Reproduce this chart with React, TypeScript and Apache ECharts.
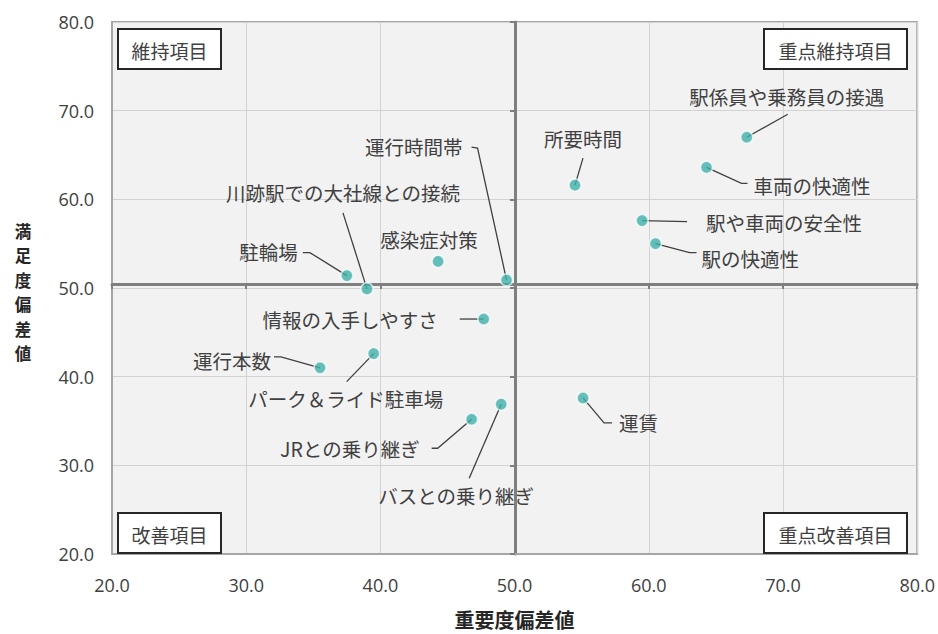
import React, { useEffect, useRef } from "react";
import * as echarts from "echarts";

// ---- data ----
const itemNames = [
  "駅係員や乗務員の接遇",
  "車両の快適性",
  "駅や車両の安全性",
  "駅の快適性",
  "所要時間",
  "運行時間帯",
  "川跡駅での大社線との接続",
  "感染症対策",
  "駐輪場",
  "情報の入手しやすさ",
  "運行本数",
  "パーク＆ライド駐車場",
  "JRとの乗り継ぎ",
  "バスとの乗り継ぎ",
  "運賃",
];
// 重要度偏差値 (x)
const importance = [67.3, 64.3, 59.5, 60.5, 54.5, 49.4, 39.0, 44.3, 37.5, 47.7, 35.5, 39.5, 46.8, 49.0, 55.1];
// 満足度偏差値 (y)
const satisfaction = [67.0, 63.6, 57.6, 55.0, 61.6, 50.9, 49.9, 53.0, 51.4, 46.5, 41.0, 42.6, 35.2, 36.9, 37.6];

const axisMin = 20;
const axisMax = 80;
const axisStep = 10;
const crossValue = 50;

const quadrantNames = ["維持項目", "重点維持項目", "改善項目", "重点改善項目"];
const xAxisTitle = "重要度偏差値";
const yAxisTitle = "満足度偏差値";

// ---- label placement (pixel offsets from each point) ----
type Placement = { dx: number; dy: number; align: "left" | "right" | "center"; leader?: number[][] };
const labelPlacement: Placement[] = [
  { dx: 40, dy: -41, align: "center", leader: [[41, -23]] },
  { dx: 47, dy: 18, align: "left", leader: [[35, 16], [41, 16]] },
  { dx: 64, dy: 2, align: "left", leader: [[45, 1]] },
  { dx: 46, dy: 15, align: "left", leader: [[34, 9], [41, 9]] },
  { dx: 8, dy: -47, align: "center", leader: [[8, -27]] },
  { dx: -44, dy: -134, align: "right", leader: [[-29, -132], [-35, -133]] },
  { dx: -24, dy: -96, align: "center", leader: [[-24, -76]] },
  { dx: -9, dy: -22, align: "center" },
  { dx: -49, dy: -24, align: "right", leader: [[-37, -23], [-44, -23]] },
  { dx: -46, dy: 0, align: "right", leader: [[-24, 0]] },
  { dx: -49, dy: -7, align: "right", leader: [[-39, -11], [-46, -11]] },
  { dx: -28, dy: 45, align: "center", leader: [[-27, 28]] },
  { dx: -52, dy: 29, align: "right", leader: [[-34, 29], [-40, 29]] },
  { dx: -45, dy: 91, align: "center", leader: [[-32, 74]] },
  { dx: 36, dy: 25, align: "left", leader: [[21, 25], [29, 25]] },
];

const FONT_JP = '"Noto Sans CJK JP", "Noto Sans", sans-serif';
const FONT_NUM = '"Open Sans", "Noto Sans", sans-serif';
const TEXT = "#404040";

const GRID = { left: 112, top: 22, width: 806, height: 540 };

function quadrantBox(name: string, x: number, y: number, w: number, h: number) {
  return [
    {
      type: "rect",
      x,
      y,
      shape: { x: 0, y: 0, width: w, height: h },
      style: { fill: "#ffffff", stroke: "#262626", lineWidth: 2 },
      z: 10,
    },
    {
      type: "text",
      x: x + w / 2,
      y: y + h / 2 + 1,
      style: {
        text: name,
        textAlign: "center",
        textVerticalAlign: "middle",
        fontSize: 19,
        fontFamily: FONT_JP,
        fill: TEXT,
      },
      z: 11,
    },
  ];
}

export default function App() {
  const ref = useRef<HTMLDivElement>(null);
  useEffect(() => {
    if (!ref.current) return;
    const chart = echarts.init(ref.current, null, { renderer: "svg" });
    const fmt = (v: number) => v.toFixed(1);
    const pts = itemNames.map((_, i) => [importance[i], satisfaction[i]]);
    const yTitleChars = yAxisTitle.split("");
    const option: any = {
      animation: false,
      backgroundColor: "#ffffff",
      grid: {
        ...GRID,
        show: true,
        backgroundColor: "#f2f2f2",
        borderColor: "#a6a6a6",
        borderWidth: 2,
      },
      xAxis: [
        {
          type: "value",
          min: axisMin,
          max: axisMax,
          interval: axisStep,
          position: "bottom",
          axisLine: { show: true, lineStyle: { color: "#a6a6a6", width: 2 } },
          axisTick: { show: false },
          splitLine: { show: true, lineStyle: { color: "#d2d2d2", width: 1 } },
          axisLabel: { formatter: fmt, color: TEXT, fontSize: 18, fontFamily: FONT_NUM, margin: 22 },
          name: xAxisTitle,
          nameLocation: "middle",
          nameGap: 55,
          nameTextStyle: { fontSize: 20, fontWeight: "bold", fontFamily: FONT_JP, color: "#262626" },
        },
        {
          type: "value",
          min: axisMin,
          max: axisMax,
          interval: axisStep,
          position: "bottom",
          offset: -GRID.height * ((crossValue - axisMin) / (axisMax - axisMin)),
          axisLine: { show: true, lineStyle: { color: "#7f7f7f", width: 3 } },
          axisTick: { show: true, length: 5, lineStyle: { color: "#7f7f7f", width: 2 } },
          axisLabel: { show: false },
          splitLine: { show: false },
        },
      ],
      yAxis: [
        {
          type: "value",
          min: axisMin,
          max: axisMax,
          interval: axisStep,
          position: "left",
          axisLine: { show: true, lineStyle: { color: "#a6a6a6", width: 2 } },
          axisTick: { show: false },
          splitLine: { show: true, lineStyle: { color: "#d2d2d2", width: 1 } },
          axisLabel: { formatter: fmt, color: TEXT, fontSize: 18, fontFamily: FONT_NUM, margin: 18 },
        },
        {
          type: "value",
          min: axisMin,
          max: axisMax,
          interval: axisStep,
          position: "left",
          offset: -GRID.width * ((crossValue - axisMin) / (axisMax - axisMin)),
          axisLine: { show: true, lineStyle: { color: "#7f7f7f", width: 3 } },
          axisTick: { show: true, length: 5, lineStyle: { color: "#7f7f7f", width: 2 } },
          axisLabel: { show: false },
          splitLine: { show: false },
        },
      ],
      series: [
        {
          type: "custom",
          xAxisIndex: 0,
          yAxisIndex: 0,
          z: 2,
          silent: true,
          clip: false,
          data: pts,
          renderItem: (params: any, api: any) => {
            const i = params.dataIndex;
            const p = api.coord([api.value(0), api.value(1)]);
            const L = labelPlacement[i];
            const children: any[] = [];
            if (L.leader) {
              children.push({
                type: "polyline",
                shape: { points: [[p[0], p[1]], ...L.leader.map(([a, b]) => [p[0] + a, p[1] + b])] },
                style: { stroke: "#404040", lineWidth: 1.3, fill: null },
              });
            }
            children.push({
              type: "text",
              x: p[0] + L.dx,
              y: p[1] + L.dy,
              style: {
                text: itemNames[i],
                textAlign: L.align,
                textVerticalAlign: "middle",
                fontSize: 19.5,
                fontFamily: FONT_JP,
                fill: TEXT,
              },
            });
            return { type: "group", children };
          },
        },
        {
          type: "scatter",
          xAxisIndex: 0,
          yAxisIndex: 0,
          z: 5,
          symbol: "circle",
          symbolSize: 12,
          itemStyle: { color: "#3fb0ab", borderColor: "rgba(255,255,255,0.85)", borderWidth: 1.5 },
          data: pts,
        },
      ],
      graphic: [
        ...quadrantBox(quadrantNames[0], 118, 29, 103, 40),
        ...quadrantBox(quadrantNames[1], 764, 29, 143, 40),
        ...quadrantBox(quadrantNames[2], 118, 513, 103, 40),
        ...quadrantBox(quadrantNames[3], 764, 513, 143, 40),
        ...yTitleChars.map((ch, k) => ({
          type: "text",
          x: 23,
          y: 292 + (k - (yTitleChars.length - 1) / 2) * 24.5,
          style: {
            text: ch,
            textAlign: "center",
            textVerticalAlign: "middle",
            fontSize: 16.5,
            fontWeight: "bold",
            fontFamily: FONT_JP,
            fill: "#262626",
          },
        })),
      ],
    };
    chart.setOption(option);
    return () => chart.dispose();
  }, []);
  return (
    <div
      ref={ref}
      style={{ position: "fixed", left: 0, top: 0, width: 938, height: 634, background: "#fff" }}
    />
  );
}
